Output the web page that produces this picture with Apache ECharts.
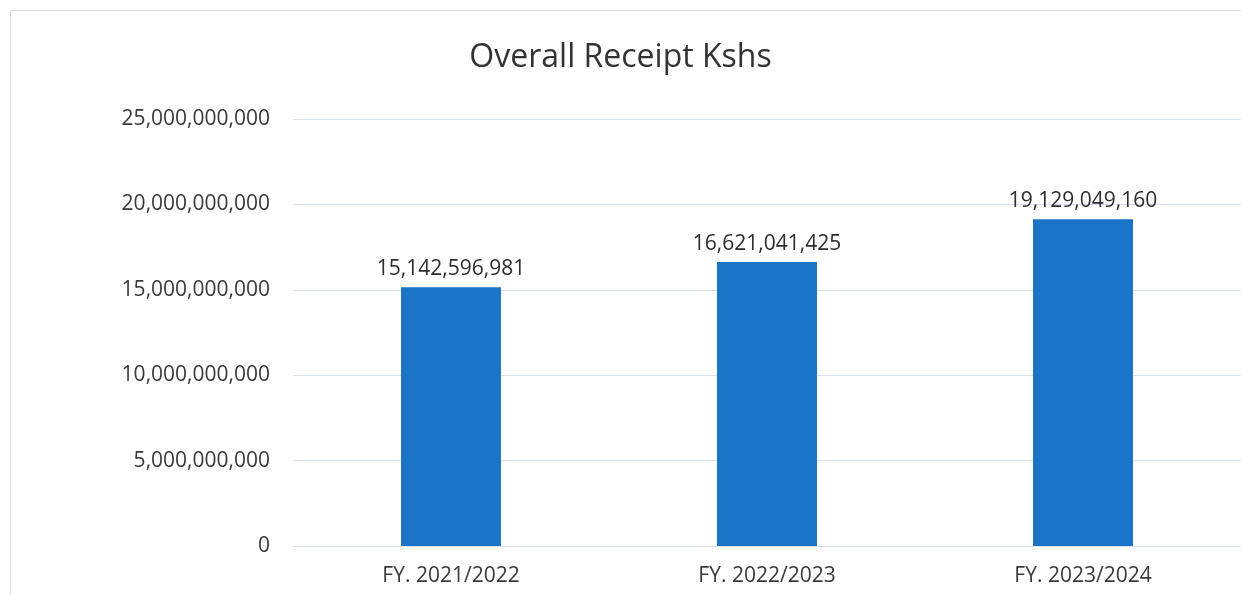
<!DOCTYPE html>
<html>
<head>
<meta charset="utf-8">
<script src="https://cdn.jsdelivr.net/npm/echarts@6/dist/echarts.min.js"></script>
<style>
html, body { margin: 0; padding: 0; background: #fff; }
#main { width: 1241px; height: 595px; }
#frame { position: absolute; left: 10px; top: 10px; width: 1250px; height: 600px; border: 1px solid #d9dee6; box-sizing: border-box; pointer-events: none; }
</style>
</head>
<body>
<div id="main"></div>
<div id="frame"></div>
<script>
var categories = ['FY. 2021/2022', 'FY. 2022/2023', 'FY. 2023/2024'];
var receipts = [15142596981, 16621041425, 19129049160];
var yTicks = [0, 5000000000, 10000000000, 15000000000, 20000000000, 25000000000];

var fmt = function (v) {
    return Number(v).toLocaleString('en-US');
};

var font = 'Open Sans';
var myChart = echarts.init(document.getElementById('main'));

var option = {
    backgroundColor: '#ffffff',
    animation: false,
    title: {
        text: 'Overall Receipt Kshs',
        left: 'center',
        top: 37,
        textStyle: {
            fontFamily: font,
            fontSize: 32,
            fontWeight: 'normal',
            color: '#333333'
        }
    },
    grid: {
        left: 293,
        right: -1,
        top: 119,
        bottom: 49
    },
    xAxis: {
        type: 'category',
        data: categories,
        axisLine: { lineStyle: { color: '#d9e2ec' } },
        axisTick: { show: false },
        axisLabel: {
            fontFamily: font,
            fontSize: 21,
            color: '#3a3a3a',
            margin: 20
        }
    },
    yAxis: {
        type: 'value',
        min: yTicks[0],
        max: yTicks[yTicks.length - 1],
        interval: yTicks[1] - yTicks[0],
        axisLine: { show: false },
        axisTick: { show: false },
        splitLine: { lineStyle: { color: '#d9e2ec' } },
        axisLabel: {
            fontFamily: font,
            fontSize: 21,
            color: '#3a3a3a',
            margin: 23,
            formatter: fmt
        }
    },
    series: [{
        type: 'bar',
        data: receipts,
        barWidth: 100,
        itemStyle: { color: '#1a74c8' },
        label: {
            show: true,
            position: 'top',
            distance: 8,
            fontFamily: font,
            fontSize: 21,
            color: '#2e2e2e',
            formatter: function (p) { return fmt(p.value); }
        }
    }]
};

myChart.setOption(option);
</script>
</body>
</html>
